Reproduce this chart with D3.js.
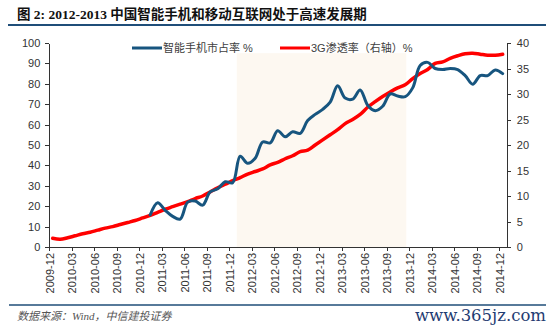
<!DOCTYPE html>
<html>
<head>
<meta charset="utf-8">
<script src="https://cdn.jsdelivr.net/npm/d3@7"></script>
<style>
  body { margin: 0; background: #fff; }
  svg { display: block; }
  .axis text { font-family: "Liberation Sans", Arial, sans-serif; font-size: 11px; fill: #333; }
  .axis path, .axis line { stroke: #333; stroke-width: 1; shape-rendering: crispEdges; }
</style>
</head>
<body>
<div id="chart"><svg></svg></div>
<script>
// tick labels on the x axis, every 3 months starting 2009-12
var tickLabels = ["2009-12", "2010-03", "2010-06", "2010-09", "2010-12", "2011-03", "2011-06",
    "2011-09", "2011-12", "2012-03", "2012-06", "2012-09", "2012-12", "2013-03", "2013-06",
    "2013-09", "2013-12", "2014-03", "2014-06", "2014-09", "2014-12"];

// 3G penetration (right axis), monthly from 2009-12
var g3Start = 0;
var g3Rate = [1.7, 1.5, 1.8, 2.2, 2.6, 2.9, 3.3, 3.7, 4.0, 4.4, 4.8, 5.2, 5.7, 6.2, 6.8, 7.4,
    7.9, 8.4, 8.9, 9.5, 10.0, 10.8, 11.6, 12.3, 13.0, 13.6, 14.3, 14.8, 15.3, 16.1, 16.6, 17.3,
    17.9, 18.7, 19.0, 20.0, 21.0, 22.0, 23.0, 24.2, 25.0, 26.0, 27.4, 28.5, 29.5, 30.4, 31.2,
    31.8, 33.0, 34.0, 34.8, 36.0, 36.3, 37.0, 37.5, 37.9, 38.0, 37.8, 37.6, 37.6, 37.8];

// smartphone market share (left axis), monthly from 2011-01
var phoneStart = 13;
var phoneShare = [15.7, 21.7, 18, 15, 13.7, 22, 22.5, 20.5, 27, 28.5, 32, 31.5, 44.5, 41, 43.5,
    51.5, 51, 57, 54, 56.5, 55.7, 62, 65, 67.5, 71, 79, 73, 72.5, 77, 69.5, 66.8, 69, 75, 74,
    73.7, 78, 89, 90.5, 87.5, 87, 87.5, 87, 84, 79.8, 84, 84, 86.8, 85];

// shaded period 2012-01 .. 2013-11 (month index), drawn up to 95 on the left axis
var shadeFrom = 25, shadeTo = 47, shadeValue = 95;

var seriesNames = ["智能手机市占率 %", "3G渗透率（右轴）%"];

var width = 550, height = 336;
var svg = d3.select("#chart svg").attr("width", width).attr("height", height);

var x = d3.scaleLinear().domain([0, 61]).range([49.3, 506.8]);
var yL = d3.scaleLinear().domain([0, 100]).range([247, 43]);
var yR = d3.scaleLinear().domain([0, 40]).range([247, 43]);

var mid = 0.45; // points sit inside their month
var blue = "#17557f", red = "#ff0000";

// title
svg.append("text")
    .attr("x", 17).attr("y", 19)
    .style("font-family", "'Liberation Serif', 'Noto Sans CJK SC', serif")
    .style("font-weight", "bold").style("font-size", "13.5px").style("fill", "#111")
    .text("图 2: 2012-2013 中国智能手机和移动互联网处于高速发展期");
svg.append("line").attr("x1", 8).attr("x2", 546).attr("y1", 25).attr("y2", 25)
    .style("stroke", "#1f4e79").style("stroke-width", 2);

// shaded period
svg.append("rect")
    .attr("x", x(shadeFrom)).attr("width", x(shadeTo + 0.6) - x(shadeFrom))
    .attr("y", yL(shadeValue)).attr("height", yL(0) - yL(shadeValue))
    .style("fill", "#fdf8f1");

// axes
svg.append("g").attr("class", "axis")
    .attr("transform", "translate(" + x(0) + ",0)")
    .call(d3.axisLeft(yL).tickValues(d3.range(0, 101, 10)).tickSize(4).tickPadding(5).tickSizeOuter(0));

svg.append("g").attr("class", "axis")
    .attr("transform", "translate(" + x(61) + ",0)")
    .call(d3.axisRight(yR).tickValues(d3.range(0, 41, 5)).tickSize(4).tickPadding(6).tickSizeOuter(0));

var xAxis = svg.append("g").attr("class", "axis")
    .attr("transform", "translate(0," + yL(0) + ")")
    .call(d3.axisBottom(x).tickValues(tickLabels.map(function(d, i) { return i * 3; }))
        .tickFormat(function(d, i) { return tickLabels[i]; })
        .tickSize(4).tickSizeOuter(0));
xAxis.selectAll("text")
    .attr("transform", "rotate(-90)")
    .attr("text-anchor", "end")
    .attr("x", -6).attr("y", 0).attr("dy", "0.35em");

// lines
var line = function(ys, start) {
    return d3.line()
        .x(function(d, i) { return x(start + i + mid); })
        .y(function(d) { return ys(d); })
        .curve(d3.curveCatmullRom.alpha(0.5));
};

svg.append("path").datum(g3Rate)
    .attr("d", line(yR, g3Start))
    .style("fill", "none").style("stroke", red).style("stroke-width", 3.5)
    .style("stroke-linejoin", "round").style("stroke-linecap", "round");

svg.append("path").datum(phoneShare)
    .attr("d", line(yL, phoneStart))
    .style("fill", "none").style("stroke", blue).style("stroke-width", 3)
    .style("stroke-linejoin", "round").style("stroke-linecap", "round");

// legend
var legend = [{ x: 132, color: blue, name: seriesNames[0] }, { x: 280, color: red, name: seriesNames[1] }];
var lg = svg.append("g").selectAll("g").data(legend).enter().append("g");
lg.append("line")
    .attr("x1", function(d) { return d.x; }).attr("x2", function(d) { return d.x + 30; })
    .attr("y1", 48).attr("y2", 48)
    .style("stroke", function(d) { return d.color; }).style("stroke-width", 3);
lg.append("text")
    .attr("x", function(d) { return d.x + 31; }).attr("y", 52)
    .style("font-family", "'Liberation Sans', 'Noto Sans CJK SC', sans-serif")
    .style("font-size", "11px").style("fill", "#404040")
    .text(function(d) { return d.name; });

// footer
svg.append("line").attr("x1", 9).attr("x2", 546).attr("y1", 305).attr("y2", 305)
    .style("stroke", "#1f4e79").style("stroke-width", 1.5);
svg.append("text")
    .attr("x", 17).attr("y", 320)
    .style("font-family", "'Liberation Serif', 'Noto Sans CJK SC', serif")
    .style("font-style", "italic").style("font-size", "11px").style("fill", "#555")
    .text("数据来源：Wind，中信建投证券");
svg.append("text")
    .attr("x", 546).attr("y", 321).attr("text-anchor", "end")
    .style("font-family", "'DejaVu Serif', serif")
    .style("font-size", "16.5px").style("fill", "#1f3c72")
    .text("www.365jz.com");
</script>
</body>
</html>
